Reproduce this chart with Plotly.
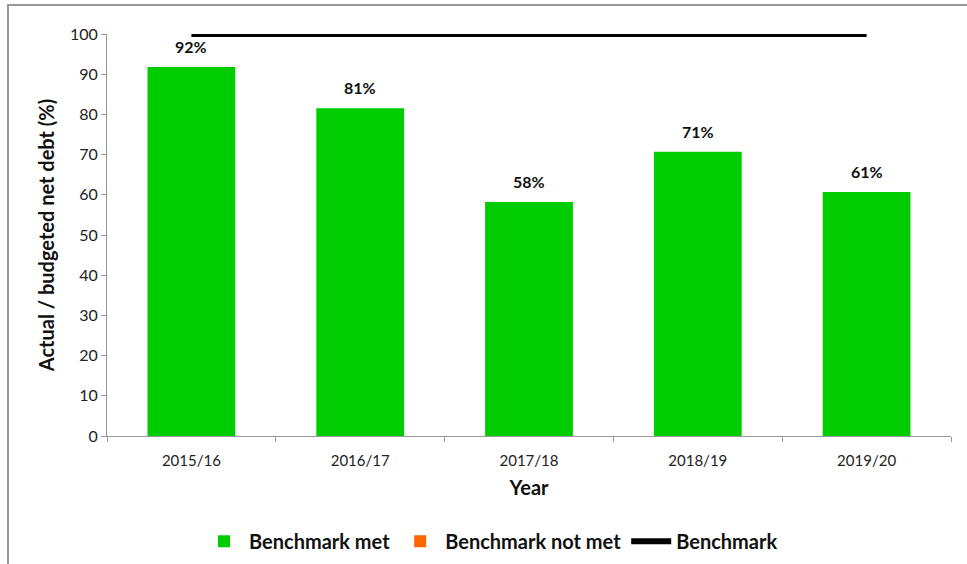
import plotly.graph_objects as go

years = ["2015/16", "2016/17", "2017/18", "2018/19", "2019/20"]
met_values = [91.8, 81.5, 58.2, 70.7, 60.7]
met_labels = ["92%", "81%", "58%", "71%", "61%"]
not_met_values = [None, None, None, None, None]
benchmark_values = [100, 100, 100, 100, 100]

FONT = "Lato, 'Open Sans', sans-serif"

fig = go.Figure()
fig.add_trace(go.Bar(
    x=years, y=met_values, name="Benchmark met",
    marker=dict(color="#00CC00", line=dict(width=0)),
    width=0.52,
))
fig.add_trace(go.Bar(
    x=years, y=not_met_values, name="Benchmark not met",
    marker=dict(color="#FF6600", line=dict(width=0)),
    width=0.52,
))
fig.add_trace(go.Scatter(
    x=years, y=benchmark_values, name="Benchmark", mode="lines",
    line=dict(color="#000000", width=6),
    cliponaxis=False,
))

annotations = [
    dict(x=yr, y=v, text=lbl, showarrow=False, xref="x", yref="y",
         yanchor="bottom", yshift=9,
         font=dict(family=FONT, size=16, color="#111111", weight="bold"))
    for yr, v, lbl in zip(years, met_values, met_labels)
]

fig.update_layout(
    width=967, height=564,
    margin=dict(l=107, r=16, t=34, b=128, autoexpand=False),
    paper_bgcolor="white", plot_bgcolor="white",
    barmode="overlay",
    font=dict(family=FONT, size=15, color="#222222"),
    showlegend=True,
    legend=dict(
        orientation="h", x=0.455, xanchor="center", y=-0.262, yanchor="middle",
        font=dict(family=FONT, size=20, color="#111111", weight="bold"),
        itemwidth=40, tracegroupgap=0,
    ),
    xaxis=dict(
        type="category", automargin=False,
        showline=True, linecolor="#999999", linewidth=1,
        ticks="outside", tickson="boundaries", ticklen=5, tickcolor="#999999",
        ticklabelstandoff=11,
        tickfont=dict(family=FONT, size=15, color="#222222"),
        title=dict(text="Year", font=dict(family=FONT, size=20, color="#111111", weight="bold"), standoff=12),
        showgrid=False, zeroline=False,
    ),
    yaxis=dict(
        range=[0, 100], tickmode="linear", tick0=0, dtick=10, automargin=False,
        showline=True, linecolor="#999999", linewidth=1,
        ticks="outside", ticklen=5, tickcolor="#999999",
        tickfont=dict(family=FONT, size=16, color="#222222"),
        title=dict(text="Actual / budgeted net debt (%)", font=dict(family=FONT, size=20, color="#111111", weight="bold"), standoff=9),
        showgrid=False, zeroline=False,
    ),
    annotations=annotations,
    shapes=[dict(
        type="rect", xref="paper", yref="paper",
        x0=-0.1173, x1=1.06, y0=-0.35, y1=1.0721,
        line=dict(color="#999999", width=2), fillcolor="rgba(0,0,0,0)", layer="below",
    )],
)

fig.write_html("out.html", config={"displayModeBar": False},
               post_script="document.body.style.margin='0';document.body.style.overflow='hidden';")
